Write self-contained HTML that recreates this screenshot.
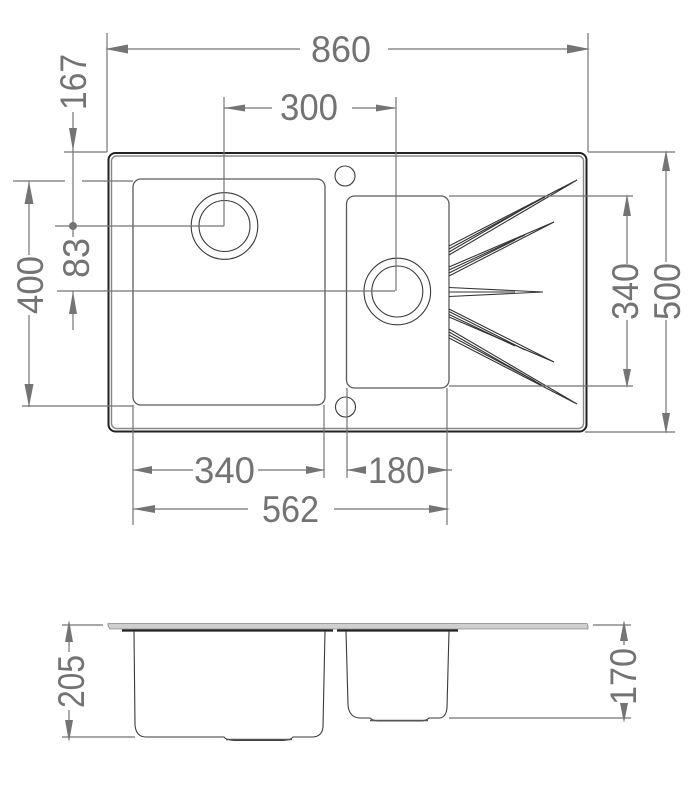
<!DOCTYPE html>
<html>
<head>
<meta charset="utf-8">
<style>
html,body{margin:0;padding:0;background:#fff;width:696px;height:800px;overflow:hidden}
svg{display:block;filter:blur(0.35px)}
text{font-family:"Liberation Sans",sans-serif;font-size:37px;fill:#737373}
.d{stroke:#747474;stroke-width:1.2;fill:none}
.a{fill:#747474;stroke:none}
.o{stroke:#3a3a3a;fill:none;stroke-width:1.1}
.b{stroke:#5a5a5a;fill:none;stroke-width:1.3}
</style>
</head>
<body>
<svg width="696" height="800" viewBox="0 0 696 800" xmlns="http://www.w3.org/2000/svg">
<!-- sink top view -->
<rect x="108.5" y="153" width="478" height="278.5" rx="7" stroke="#222" stroke-width="2" fill="none"/>
<rect x="111.500" y="156" width="472" height="272.5" rx="5" stroke="#888" stroke-width="1.4" fill="none"/>
<rect x="133" y="179" width="192" height="226" rx="8" class="b"/>
<rect x="346.5" y="196" width="102.5" height="192" rx="8" class="b"/>
<circle cx="345" cy="176" r="10" class="o"/>
<circle cx="345.5" cy="407" r="10" class="o"/>
<circle cx="224.5" cy="226" r="33.3" class="o" stroke-width="1.3"/>
<circle cx="224.5" cy="226" r="25.5" class="o" stroke-width="1.3"/>
<circle cx="397.3" cy="291.5" r="33.3" class="o" stroke-width="1.3"/>
<circle cx="397.3" cy="291.5" r="25.5" class="o" stroke-width="1.3"/>
<!-- grooves -->
<g stroke="#333" stroke-width="1.1" fill="none">
<path d="M449 246L577 180L449 255"/><path d="M449 249L545 197"/><path d="M449 252L535 202"/>
<path d="M449 267L554 222L449 276"/><path d="M449 270L525 235"/><path d="M449 273L515 240"/>
<path d="M449 287.500L543 292L449 296.500"/><path d="M449 292L515 292"/>
<path d="M449 309L554 362L449 317"/><path d="M449 311.500L525 350"/><path d="M449 314.500L515 346"/>
<path d="M449 329L577 404L449 338"/><path d="M449 332L545 387"/><path d="M449 335L535 381"/>
</g>
<!-- extension and dimension lines -->
<g class="d">
<path d="M107 33V152M588 33V152"/>
<path d="M107 49H300M388 49H588"/>
<path d="M224 97V226M396 97V291"/>
<path d="M224 108H272M352 108H395"/>
<path d="M64 152H107"/>
<path d="M73 112V226M73 226V237"/>
<path d="M55 226H224"/>
<path d="M13 181H65M82 181H133"/>
<path d="M57 291H395"/>
<path d="M73 291V330"/>
<path d="M29 181V255M29 315V407"/>
<path d="M22 406H133"/>
<path d="M133 405V525M324 405V478M347 388V478M447 388V525"/>
<path d="M133 470H193M258 470H324M347 470H365M428 470H452"/>
<path d="M133 509H248M334 509H448"/>
<path d="M588 152H675M585 432H675"/>
<path d="M666 152V262M666 320V432"/>
<path d="M449 196H633M449 386H633"/>
<path d="M627 196V264M627 320V386"/>
<path d="M62 625H103M62 737H135"/>
<path d="M69 622V652M69 710V740"/>
<path d="M593 625H631M449 718H631"/>
<path d="M624 622V645M624 705V720"/>
</g>
<!-- arrowheads -->
<g class="a">
<path d="M105 49L128 44.500V53.500Z"/>
<path d="M590 49L567 44.500V53.500Z"/>
<path d="M224 108L245 104.500V111.500Z"/>
<path d="M397 108L376 104.500V111.500Z"/>
<path d="M73 151L69 128H77Z"/>
<path d="M73 291L69 314H77Z"/>
<circle cx="73" cy="226" r="4"/>
<path d="M29 181L24.500 204H33.500Z"/>
<path d="M29 407L24.500 384H33.500Z"/>
<path d="M133 470L152 466V474Z"/>
<path d="M325 470L306 466V474Z"/>
<path d="M347 470L366 466V474Z"/>
<path d="M449 470L428 466V474Z"/>
<path d="M133 509L155 505V513Z"/>
<path d="M450 509L429 505V513Z"/>
<path d="M666 150L662 171H670Z"/>
<path d="M666 434L662 413H670Z"/>
<path d="M627 194L623 216H631Z"/>
<path d="M627 388L623 369H631Z"/>
<path d="M69 620L65 642H73Z"/>
<path d="M69 742L65 720H73Z"/>
<path d="M624 620L620 641H628Z"/>
<path d="M624 723L620 703H628Z"/>
</g>
<!-- side view -->
<path d="M108 623.500H587L588 625.500V629H110L108 626Z" fill="#cfcfcf" stroke="#888" stroke-width="0.8"/>
<path d="M122 630.500H333M337 630.500H458" stroke="#222" stroke-width="2.2" fill="none"/>
<path d="M134 631L135 725Q136 737 146 737H224Q226 740 235 740.500H283Q291 740 293 737H312Q322 737 323 727L325 631" class="o" stroke-width="1.4"/>
<path d="M346 631L348 705Q349 717 359 718H370Q373 721 380 721H420Q426 721 429 718H440Q446 717 447 708L449 631" class="o" stroke-width="1.4"/>
<path d="M370 720.500H428M226 739.500H292" stroke="#555" stroke-width="1.5" fill="none"/>
<!-- labels -->
<text x="311" y="62" textLength="60" lengthAdjust="spacingAndGlyphs">860</text>
<text x="280" y="120" textLength="58" lengthAdjust="spacingAndGlyphs">300</text>
<text transform="translate(86,110) rotate(-90)" textLength="56" lengthAdjust="spacingAndGlyphs">167</text>
<text transform="translate(89,278) rotate(-90)" textLength="40" lengthAdjust="spacingAndGlyphs">83</text>
<text transform="translate(43,314) rotate(-90)" textLength="58" lengthAdjust="spacingAndGlyphs">400</text>
<text x="194" y="483" textLength="61" lengthAdjust="spacingAndGlyphs">340</text>
<text x="368" y="483" textLength="57" lengthAdjust="spacingAndGlyphs">180</text>
<text x="262" y="522" textLength="57" lengthAdjust="spacingAndGlyphs">562</text>
<text transform="translate(638,320) rotate(-90)" textLength="57" lengthAdjust="spacingAndGlyphs">340</text>
<text transform="translate(680,320) rotate(-90)" textLength="57" lengthAdjust="spacingAndGlyphs">500</text>
<text transform="translate(84,708) rotate(-90)" textLength="53" lengthAdjust="spacingAndGlyphs">205</text>
<text transform="translate(636,705) rotate(-90)" textLength="57" lengthAdjust="spacingAndGlyphs">170</text>
</svg>
</body>
</html>
